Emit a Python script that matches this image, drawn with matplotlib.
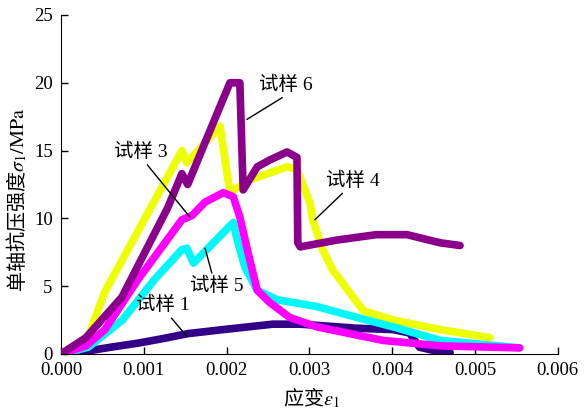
import matplotlib
matplotlib.use("Agg")
import matplotlib.pyplot as plt

plt.rcParams["font.family"] = ["Liberation Serif", "Noto Sans CJK SC"]
plt.rcParams["mathtext.fontset"] = "stix"

# specimen 1 (dark blue)
s1_strain = [0.0, 0.0003, 0.0006, 0.00093, 0.0012, 0.00153, 0.00196, 0.00256,
             0.00289, 0.00357, 0.00401, 0.00421, 0.00433, 0.00458, 0.0047]
s1_stress = [0.0, 0.2, 0.5, 0.8, 1.1, 1.5, 1.8, 2.2,
             2.2, 1.9, 1.8, 1.55, 0.5, 0.15, 0.1]

# specimen 3 (magenta)
s3_strain = [0.0, 0.0003, 0.00053, 0.00093, 0.00146, 0.00158, 0.00174, 0.00196,
             0.00208, 0.00216, 0.00225, 0.00237, 0.00252, 0.00276, 0.00309,
             0.00389, 0.00458, 0.00554]
s3_stress = [0.0, 0.6, 1.8, 5.5, 9.9, 10.2, 11.2, 11.9,
             11.6, 10.1, 7.7, 4.7, 3.8, 2.7, 2.0,
             1.0, 0.6, 0.45]

# specimen 4 (yellow)
s4_strain = [0.0, 0.00033, 0.00053, 0.00146, 0.00152, 0.00192, 0.00204, 0.00226,
             0.00273, 0.00285, 0.00301, 0.00304, 0.00316, 0.00328, 0.00365,
             0.00401, 0.00458, 0.00518]
s4_stress = [0.0, 1.3, 4.6, 15.0, 14.1, 16.8, 11.9, 12.8,
             13.8, 13.6, 11.1, 9.9, 7.7, 6.2, 3.2,
             2.5, 1.8, 1.2]

# specimen 5 (cyan)
s5_strain = [0.0, 0.00033, 0.00074, 0.00113, 0.00146, 0.00152, 0.00160, 0.00208,
             0.00212, 0.00222, 0.00237, 0.00261, 0.00309, 0.00357, 0.00401,
             0.00458, 0.00554]
s5_stress = [0.0, 0.5, 2.5, 5.5, 7.7, 7.8, 6.7, 9.7,
             8.6, 6.4, 4.7, 4.0, 3.5, 2.7, 2.0,
             1.0, 0.45]

# specimen 6 (purple)
s6_strain = [0.0, 0.0003, 0.000736, 0.00129, 0.00146, 0.00153, 0.00174, 0.00204,
             0.00216, 0.0022, 0.00237, 0.00252, 0.00273, 0.00285, 0.00286,
             0.00289, 0.00333, 0.00381, 0.00418, 0.00458, 0.00482]
s6_stress = [0.0, 1.2, 4.2, 10.8, 13.3, 12.5, 15.6, 20.0,
             20.0, 12.1, 13.8, 14.3, 14.9, 14.5, 8.2,
             7.9, 8.4, 8.8, 8.8, 8.2, 8.0]

labels = ["试样 1", "试样 3", "试样 4", "试样 5", "试样 6"]
label_pos = [(0.00123, 3.6), (0.000966, 14.9), (0.003525, 12.8),
             (0.00188, 5.0), (0.00271, 19.84)]
label_tip = [(0.00152, 1.3), (0.001557, 10.1), (0.003066, 9.9),
             (0.00174, 7.8), (0.002245, 17.3)]

fig = plt.figure(figsize=(5.84, 4.12), dpi=100)
ax = fig.add_axes((0.1045, 0.1408, 0.8505, 0.8228))

lw = 5.5
ax.plot(s1_strain, s1_stress, color="#330088", lw=lw, solid_capstyle="round", zorder=2)
ax.plot(s4_strain, s4_stress, color="#EEFF00", lw=lw, solid_capstyle="round", zorder=3)
ax.plot(s5_strain, s5_stress, color="#00F8F8", lw=lw, solid_capstyle="round", zorder=4)
ax.plot(s3_strain, s3_stress, color="#FF00FF", lw=lw, solid_capstyle="round", zorder=5)
ax.plot(s6_strain, s6_stress, color="#8B008B", lw=lw, solid_capstyle="round", zorder=6)

ax.set_xlim(0, 0.006)
ax.set_ylim(0, 25)
ax.set_xticks([0, 0.001, 0.002, 0.003, 0.004, 0.005, 0.006])
ax.set_xticklabels(["0.000", "0.001", "0.002", "0.003", "0.004", "0.005", "0.006"])
ax.set_yticks([0, 5, 10, 15, 20, 25])
ax.tick_params(direction="in", length=5, width=1, labelsize=13.5, pad=6)
ax.spines["top"].set_visible(False)
ax.spines["right"].set_visible(False)

# CJK part uses Noto Sans CJK as the "default" mathtext font, symbols in stix
ax.set_xlabel(r"应变$\varepsilon_1$", fontsize=14.5, family="Noto Sans CJK SC")
ax.set_ylabel(r"单轴抗压强度$\sigma_1\mathrm{/MPa}$", fontsize=14.5,
              family="Noto Sans CJK SC")
ax.xaxis.set_label_coords(0.505, -0.092)
ax.yaxis.set_label_coords(-0.064, 0.454)

# leader line leaves each label at this spot on its box
relpos = [(0.6, 0), (0.56, 0), (0.38, 0), (0.43, 1), (0.55, 0)]
for text, xytext, xy, rp in zip(labels, label_pos, label_tip, relpos):
    ax.annotate(text, xy=xy, xytext=xytext, fontsize=14, ha="center", va="center",
                arrowprops=dict(arrowstyle="-", color="black", lw=1,
                                relpos=rp, shrinkA=1, shrinkB=0),
                zorder=10)

fig.savefig("out.png", dpi=100)
